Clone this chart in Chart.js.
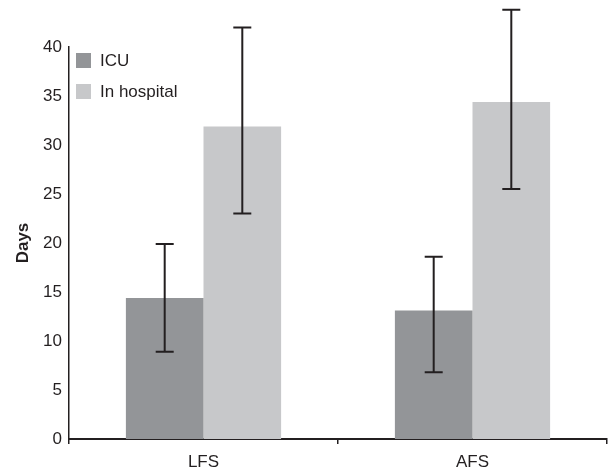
<!DOCTYPE html>
<html>
<head>
<meta charset="utf-8">
<script src="https://cdn.jsdelivr.net/npm/chart.js@4/dist/chart.umd.min.js"></script>
<style>
  html, body { margin: 0; padding: 0; background: #fff; }
  #wrap { width: 611px; height: 473px; }
</style>
</head>
<body>
<div id="wrap"><canvas id="barChart"></canvas></div>
<script>
const categories = ["LFS", "AFS"];
const seriesNames = ["ICU", "In hospital"];
const icuMean = [14.4, 13.1];
const icuLow = [8.9, 6.8];
const icuHigh = [19.9, 18.6];
const hospMean = [31.9, 34.4];
const hospLow = [23.0, 25.5];
const hospHigh = [42.0, 43.8];
const yTicks = [0, 5, 10, 15, 20, 25, 30, 35, 40];

const ink = "#231f20";
const fontFamily = "'Liberation Sans', Arial, sans-serif";

// error bars, drawn above the bars and allowed past the top of the axis
const errorBars = {
    id: "errorBars",
    afterDatasetsDraw(chart) {
        const ctx = chart.ctx;
        const y = chart.scales.y;
        const ranges = [[icuLow, icuHigh], [hospLow, hospHigh]];
        ctx.save();
        ctx.strokeStyle = ink;
        ctx.lineWidth = 2;
        ranges.forEach((r, i) => {
            chart.getDatasetMeta(i).data.forEach((bar, j) => {
                const yl = y.getPixelForValue(r[0][j]);
                const yh = y.getPixelForValue(r[1][j]);
                ctx.beginPath();
                ctx.moveTo(bar.x, yl);
                ctx.lineTo(bar.x, yh);
                ctx.moveTo(bar.x - 9, yl);
                ctx.lineTo(bar.x + 9, yl);
                ctx.moveTo(bar.x - 9, yh);
                ctx.lineTo(bar.x + 9, yh);
                ctx.stroke();
            });
        });
        ctx.restore();
    }
};

// legend sits inside the plot, top left
const innerLegend = {
    id: "innerLegend",
    afterDraw(chart) {
        const ctx = chart.ctx;
        const left = chart.chartArea.left;
        ctx.save();
        ctx.font = "17px " + fontFamily;
        ctx.textBaseline = "middle";
        chart.data.datasets.forEach((ds, i) => {
            const cy = 60 + i * 31;
            ctx.fillStyle = ds.backgroundColor;
            ctx.fillRect(left + 7, cy - 7, 15, 15);
            ctx.fillStyle = ink;
            ctx.fillText(ds.label, left + 31, cy + 1);
        });
        ctx.restore();
    }
};

new Chart(document.getElementById("barChart"), {
    type: "bar",
    data: {
        labels: categories,
        datasets: [
            { label: seriesNames[0], data: icuMean, backgroundColor: "#939598" },
            { label: seriesNames[1], data: hospMean, backgroundColor: "#c7c8ca" }
        ]
    },
    options: {
        responsive: true,
        maintainAspectRatio: false,
        animation: false,
        layout: { padding: { top: 47, right: 4, left: 0, bottom: 0 } },
        datasets: { bar: { barPercentage: 1, categoryPercentage: 0.577 } },
        plugins: {
            legend: { display: false },
            tooltip: { enabled: false }
        },
        scales: {
            x: {
                grid: { display: true, drawOnChartArea: false, drawTicks: true, tickLength: 5, color: ink, lineWidth: 1.5, offset: true },
                border: { display: true, color: ink, width: 2 },
                ticks: { color: ink, font: { family: fontFamily, size: 17 }, padding: 8 },
                afterFit: s => { s.height = 34; }
            },
            y: {
                min: 0,
                max: 40,
                afterBuildTicks: s => { s.ticks = yTicks.map(v => ({ value: v })); },
                grid: { display: false, drawTicks: false },
                border: { display: true, color: ink, width: 1.5 },
                ticks: { color: ink, padding: 7, font: { family: fontFamily, size: 17 } },
                title: {
                    display: true,
                    text: "Days",
                    color: ink,
                    font: { family: fontFamily, size: 17, weight: "bold" },
                    padding: { top: 13, bottom: 0 }
                },
                afterFit: s => { s.width = 69; }
            }
        }
    },
    plugins: [errorBars, innerLegend]
});
</script>
</body>
</html>
